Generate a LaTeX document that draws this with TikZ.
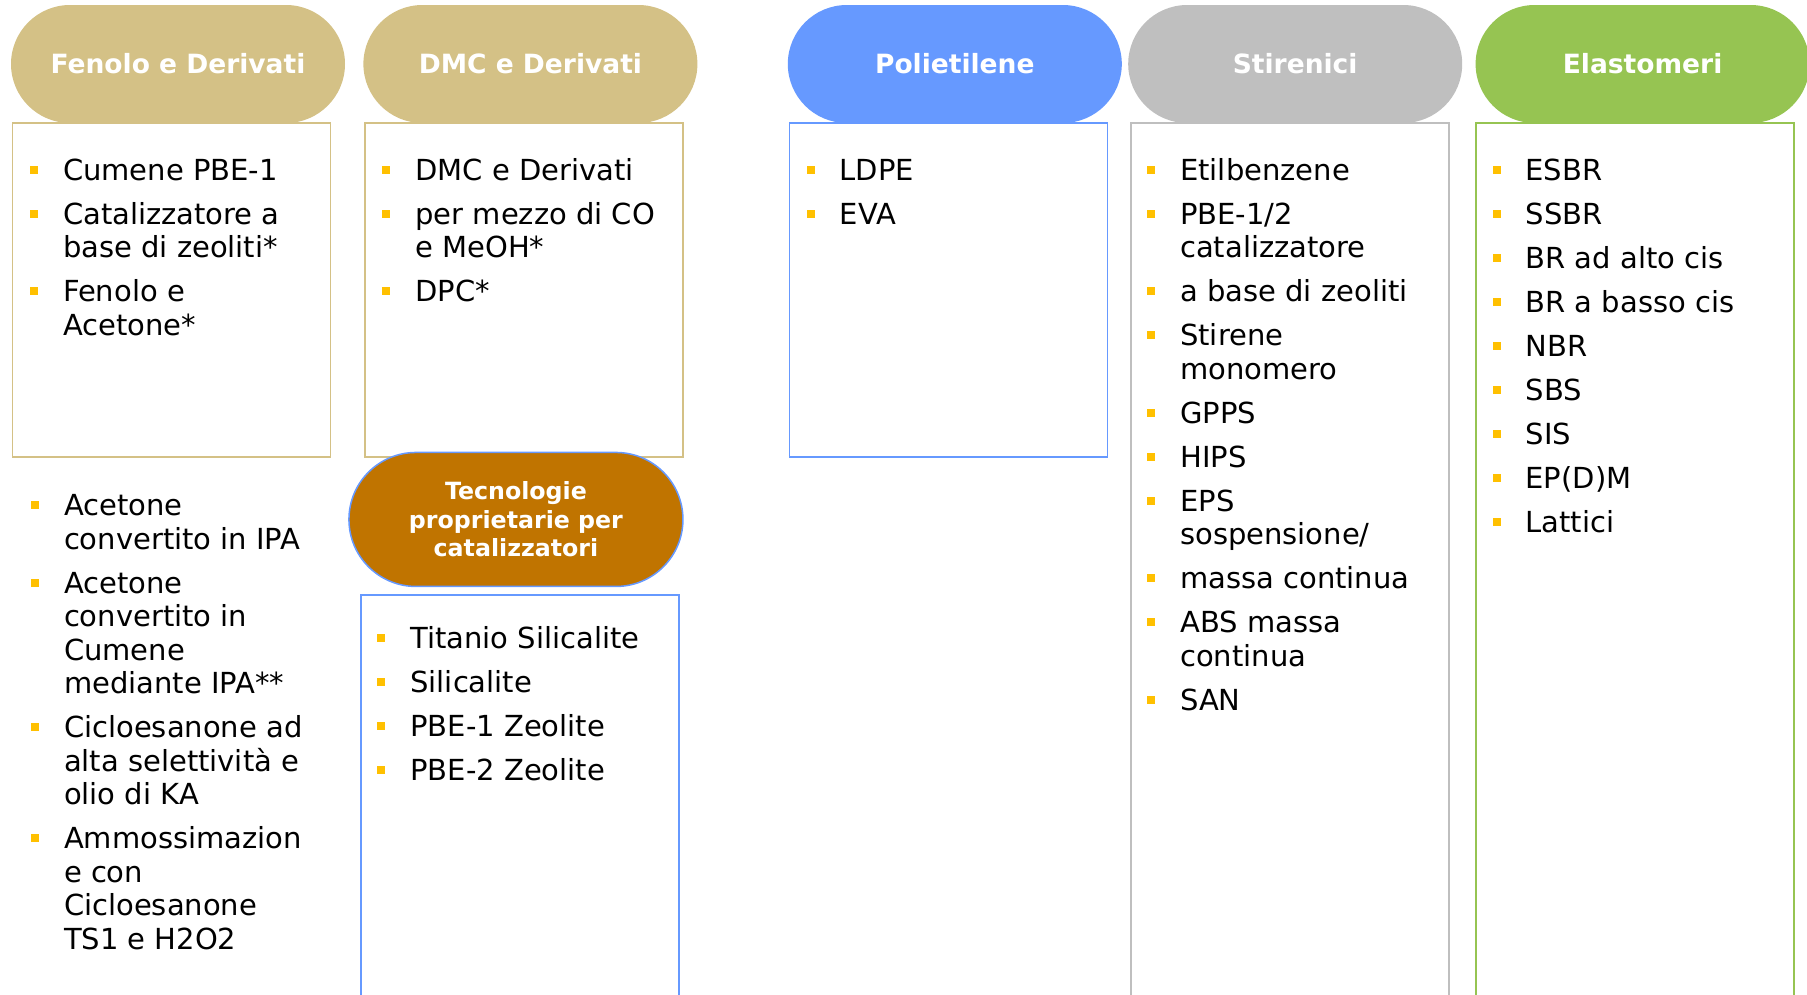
\documentclass[tikz,border=0pt]{standalone}
\usepackage{fontspec}
\setmainfont{DejaVu Sans}
\usepackage{xcolor}
\usepackage{tikz}
\usetikzlibrary{positioning}

\definecolor{sabbia}{RGB}{212,193,134}
\definecolor{azzurro}{RGB}{102,153,255}
\definecolor{grigio}{RGB}{191,191,191}
\definecolor{verde}{RGB}{150,196,82}
\definecolor{ocra}{RGB}{192,116,0}
\definecolor{giallo}{RGB}{255,192,0}

\newcommand{\voce}{\rule{0pt}{24pt}\llap{\textcolor{giallo}{\rule[6.5pt]{8pt}{8pt}}\hspace{25pt}}}

\begin{document}
\begin{tikzpicture}[x=1pt,y=-1pt,node distance=18pt,
  pillola/.style={rectangle,rounded corners=59pt,minimum width=334pt,minimum height=118pt,
    inner sep=0pt,text=white,font=\fontsize{26.5}{30}\selectfont\bfseries},
  scatola/.style={draw,line width=1.5pt,minimum width=318pt,minimum height=334pt,inner sep=0pt},
  elenco/.style={inner sep=0pt,align=left,font=\fontsize{29}{33.5}\selectfont}]
\useasboundingbox (0,0) rectangle (1807,994);

\node[pillola,fill=sabbia] (fen) at (178,64) {Fenolo e Derivati};
\node[pillola,fill=sabbia,right=of fen] (dmc) {DMC e Derivati};
\node[pillola,fill=azzurro,right=90pt of dmc] (pol) {Polietilene};
\node[pillola,fill=grigio,right=6pt of pol] (sti) {Stirenici};
\node[pillola,fill=verde,right=13pt of sti] (ela) {Elastomeri};

\node[scatola,draw=sabbia,below right=-1pt and 1pt of fen.south west] (fenbox) {};
\node[scatola,draw=sabbia,below right=-1pt and 1pt of dmc.south west] (dmcbox) {};
\node[scatola,draw=azzurro,below right=-1pt and 1pt of pol.south west] (polbox) {};
\node[scatola,draw=grigio,minimum height=880pt,below right=-1pt and 2pt of sti.south west] (stibox) {};
\node[scatola,draw=verde,minimum height=880pt,below right=-1pt and 0pt of ela.south west] (elabox) {};

\node[pillola,fill=ocra,draw=azzurro,line width=1.5pt,minimum height=134pt,rounded corners=67pt,
  align=center,font=\fontsize{23.7}{28.5}\selectfont\bfseries,
  below=-6pt of dmcbox,xshift=-8pt] (tec) {Tecnologie\\proprietarie per\\catalizzatori};
\node[scatola,draw=azzurro,minimum height=420pt,below right=7pt and 12pt of tec.south west] (tecbox) {};

\node[elenco,below right=34pt and 51pt of fenbox.north west] (fenlista)
  {\voce Cumene PBE-1\\[10.5pt]\voce Catalizzatore a\\base di zeoliti*\\[10.5pt]\voce Fenolo e\\Acetone*};
\node[elenco,below right=34pt and 52pt of fenbox.south west] (acelista)
  {\voce Acetone\\convertito in IPA\\[10.5pt]\voce Acetone\\convertito in\\Cumene\\mediante IPA**\\[10.5pt]%
   \voce Cicloesanone ad\\alta selettività e\\olio di KA\\[10.5pt]\voce Ammossimazion\\e con\\Cicloesanone\\TS1 e H2O2};
\node[elenco,below right=34pt and 51pt of dmcbox.north west] (dmclista)
  {\voce DMC e Derivati\\[10.5pt]\voce per mezzo di CO\\e MeOH*\\[10.5pt]\voce DPC*};
\node[elenco,below right=34pt and 51pt of polbox.north west] (pollista)
  {\voce LDPE\\[10.5pt]\voce EVA};
\node[elenco,below right=34pt and 50pt of stibox.north west] (stilista)
  {\voce Etilbenzene\\[10.5pt]\voce PBE-1/2\\catalizzatore\\[10.5pt]\voce a base di zeoliti\\[10.5pt]%
   \voce Stirene\\monomero\\[10.5pt]\voce GPPS\\[10.5pt]\voce HIPS\\[10.5pt]\voce EPS\\sospensione/\\[10.5pt]%
   \voce massa continua\\[10.5pt]\voce ABS massa\\continua\\[10.5pt]\voce SAN};
\node[elenco,below right=34pt and 50pt of elabox.north west] (elalista)
  {\voce ESBR\\[10.5pt]\voce SSBR\\[10.5pt]\voce BR ad alto cis\\[10.5pt]\voce BR a basso cis\\[10.5pt]%
   \voce NBR\\[10.5pt]\voce SBS\\[10.5pt]\voce SIS\\[10.5pt]\voce EP(D)M\\[10.5pt]\voce Lattici};
\node[elenco,below right=30pt and 50pt of tecbox.north west] (teclista)
  {\voce Titanio Silicalite\\[10.5pt]\voce Silicalite\\[10.5pt]\voce PBE-1 Zeolite\\[10.5pt]\voce PBE-2 Zeolite};

\end{tikzpicture}
\end{document}
